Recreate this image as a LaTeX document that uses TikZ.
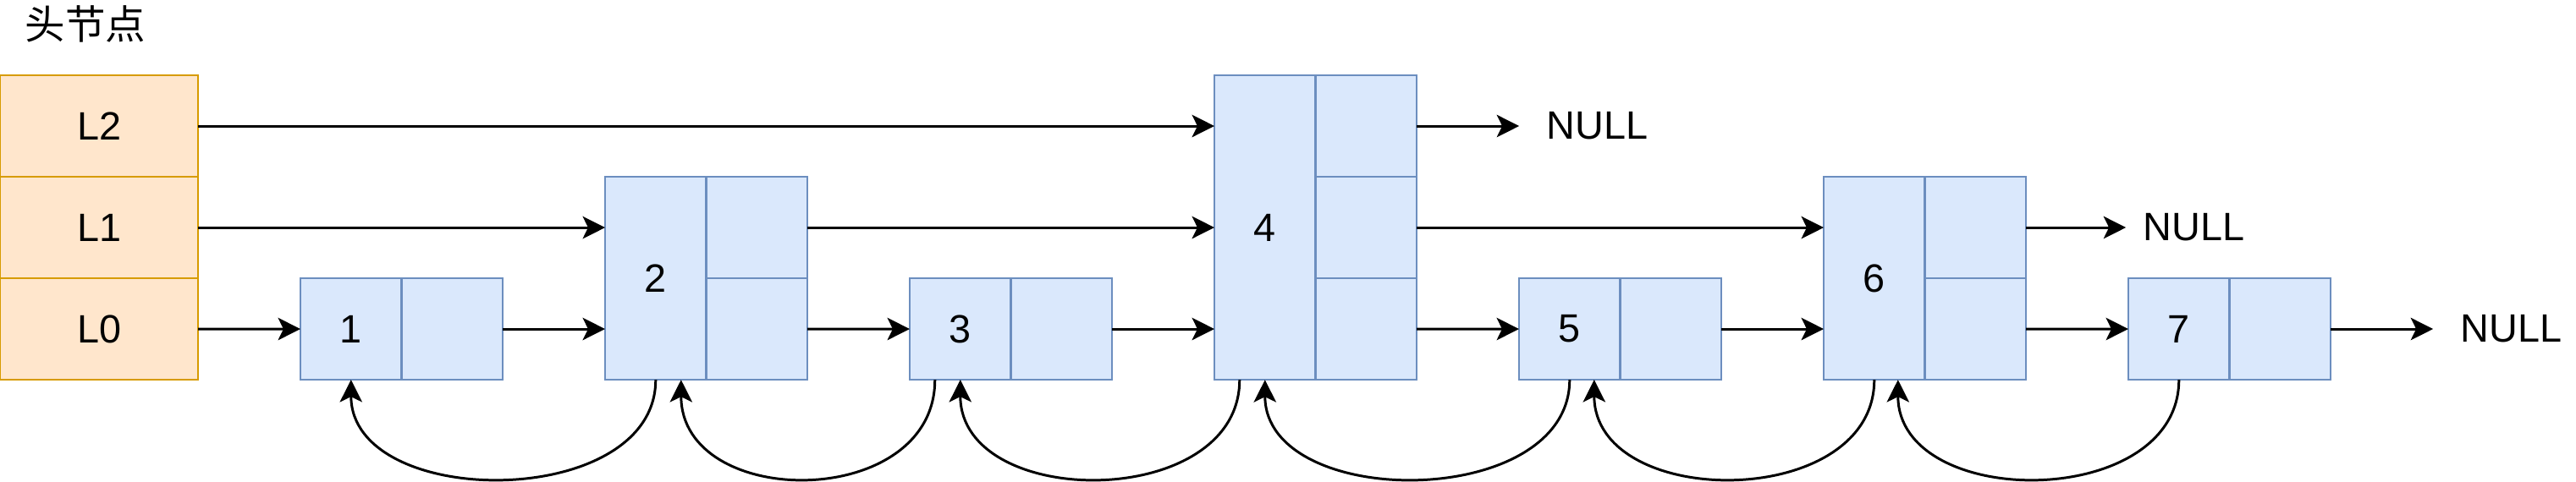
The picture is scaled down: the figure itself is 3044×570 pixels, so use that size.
\documentclass[tikz,border=0pt]{standalone}
\usepackage{fontspec}
\setmainfont{Liberation Sans}
\newfontfamily\cjk{Noto Sans CJK SC}
\usetikzlibrary{arrows.meta,calc}
\definecolor{blfill}{HTML}{DAE8FC}
\definecolor{bldraw}{HTML}{6C8EBF}
\definecolor{orfill}{HTML}{FFE6CC}
\definecolor{ordraw}{HTML}{D79B00}
\begin{document}
\begin{tikzpicture}[x=0.01cm,y=-0.01cm,
  txt/.style={font=\fontsize{13.3pt}{16pt}\selectfont},
  cell/.style={txt, draw=bldraw, fill=blfill, line width=0.7pt,
    minimum width=1.195cm, minimum height=1.2cm, inner sep=0pt,
    outer sep=0pt, anchor=north west},
  hcell/.style={cell, draw=ordraw, fill=orfill, minimum width=2.34cm},
  link/.style={line width=0.85pt, -{Stealth[length=7.5pt,width=7.5pt,inset=1.8pt]}},
  nulltxt/.style={txt, anchor=west, inner sep=0pt, inner xsep=0.32cm},
  back/.style={link}
]
\useasboundingbox (0,0) rectangle (3044,570);

% title
\node[font=\cjk\fontsize{13.5pt}{16pt}\selectfont, inner sep=0pt] (title) at (101,28) {头节点};

% header
\node[hcell] (h2) at (0,89) {L2};
\node[hcell] (h1) at (h2.south west) {L1};
\node[hcell] (h0) at (h1.south west) {L0};

% node 1
\node[cell] (n1a) at (355,329) {1};
\node[cell] (n1b) at (n1a.north east) {};
% node 2
\node[cell, minimum height=2.4cm] (n2a) at (715,209) {2};
\node[cell] (n2r1) at (n2a.north east) {};
\node[cell] (n2r0) at (n2r1.south west) {};
% node 3
\node[cell] (n3a) at (1075,329) {3};
\node[cell] (n3b) at (n3a.north east) {};
% node 4
\node[cell, minimum height=3.6cm] (n4a) at (1435,89) {4};
\node[cell] (n4r2) at (n4a.north east) {};
\node[cell] (n4r1) at (n4r2.south west) {};
\node[cell] (n4r0) at (n4r1.south west) {};
% node 5
\node[cell] (n5a) at (1795,329) {5};
\node[cell] (n5b) at (n5a.north east) {};
% node 6
\node[cell, minimum height=2.4cm] (n6a) at (2155,209) {6};
\node[cell] (n6r1) at (n6a.north east) {};
\node[cell] (n6r0) at (n6r1.south west) {};
% node 7
\node[cell] (n7a) at (2515,329) {7};
\node[cell] (n7b) at (n7a.north east) {};

% NULL labels
\node[nulltxt] (null2) at ($(n4r2.east)+(121,0)$) {NULL};
\node[nulltxt, inner xsep=0.2cm] (null1) at ($(n6r1.east)+(118,0)$) {NULL};
\node[nulltxt] (null0) at ($(n7b.east)+(121,0)$) {NULL};

% level 2
\draw[link] (h2.east) -- (h2.east -| n4a.west);
\draw[link] (n4r2.east) -- (null2.west);
% level 1
\draw[link] (h1.east) -- (h1.east -| n2a.west);
\draw[link] (n2r1.east) -- (n2r1.east -| n4a.west);
\draw[link] (n4r1.east) -- (n4r1.east -| n6a.west);
\draw[link] (n6r1.east) -- (null1.west);
% level 0
\draw[link] (h0.east) -- (n1a.west);
\draw[link] (n1b.east) -- (n1b.east -| n2a.west);
\draw[link] (n2r0.east) -- (n3a.west);
\draw[link] (n3b.east) -- (n3b.east -| n4a.west);
\draw[link] (n4r0.east) -- (n5a.west);
\draw[link] (n5b.east) -- (n5b.east -| n6a.west);
\draw[link] (n6r0.east) -- (n7a.west);
\draw[link] (n7b.east) -- (null0.west);

% backward links
\draw[back] (n2a.south) .. controls +(0,155) and +(0,155) .. (n1a.south);
\draw[back] ([xshift=-0.3cm]n3a.south) .. controls +(0,155) and +(0,155) .. ([xshift=0.3cm]n2a.south);
\draw[back] ([xshift=-0.3cm]n4a.south) .. controls +(0,155) and +(0,155) .. (n3a.south);
\draw[back] (n5a.south) .. controls +(0,155) and +(0,155) .. (n4a.south);
\draw[back] (n6a.south) .. controls +(0,155) and +(0,155) .. ([xshift=0.29cm]n5a.south);
\draw[back] (n7a.south) .. controls +(0,155) and +(0,155) .. ([xshift=0.28cm]n6a.south);
\end{tikzpicture}
\end{document}
